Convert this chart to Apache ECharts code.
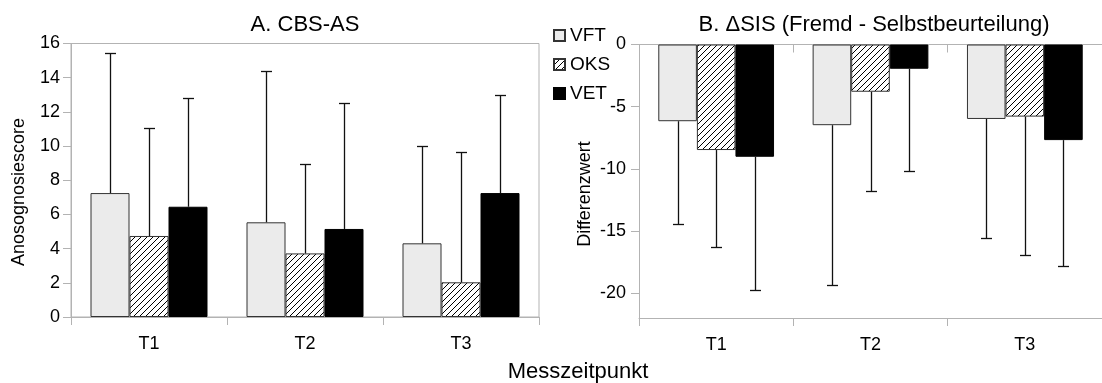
<!DOCTYPE html>
<html><head><meta charset="utf-8">
<script src="https://cdn.jsdelivr.net/npm/echarts@6/dist/echarts.min.js"></script>
<style>html,body{margin:0;padding:0;background:#fff}#c{width:1102px;height:383px}</style>
</head><body><div id="c"></div>
<script>
// ---- data ----
const categories = ['T1', 'T2', 'T3'];
const seriesNames = ['VFT', 'OKS', 'VET'];
// A. CBS-AS (Anosognosiescore): means and SD
const cbsVFT = [7.25, 5.54, 4.31];
const cbsOKS = [4.74, 3.72, 2.03];
const cbsVET = [6.45, 5.15, 7.25];
const cbsVFTsd = [8.20, 8.85, 5.69];
const cbsOKSsd = [6.29, 5.24, 7.62];
const cbsVETsd = [6.34, 7.36, 5.73];
// B. ΔSIS (Differenzwert): means and SD
const sisVFT = [-6.17, -6.49, -5.99];
const sisOKS = [-8.49, -3.80, -5.80];
const sisVET = [-9.03, -1.95, -7.69];
const sisVFTsd = [8.25, 12.88, 9.61];
const sisOKSsd = [7.83, 7.95, 11.11];
const sisVETsd = [10.68, 8.23, 10.10];
// tick labels
const yTicksA = [0, 2, 4, 6, 8, 10, 12, 14, 16];
const yTicksB = [0, -5, -10, -15, -20];

// ---- styling ----
const FONT = 'Liberation Sans';
const AXIS = '#b3b3b3';
function makeHatch() {
  const c = document.createElement('canvas');
  c.width = 6; c.height = 6;
  const g = c.getContext('2d');
  g.fillStyle = '#fff'; g.fillRect(0, 0, 6, 6);
  g.strokeStyle = '#000'; g.lineWidth = 1;
  g.beginPath();
  g.moveTo(0, 6); g.lineTo(6, 0);
  g.moveTo(-1, 1); g.lineTo(1, -1);
  g.moveTo(5, 7); g.lineTo(7, 5);
  g.stroke();
  return c;
}
const styles = [
  {color: '#ebebeb', borderColor: '#333', borderWidth: 1},
  {color: {image: makeHatch(), repeat: 'repeat'}, borderColor: '#333', borderWidth: 1},
  {color: '#000', borderColor: '#000', borderWidth: 1}
];

function errData(means, sds) {
  const out = [];
  means.forEach((m, si) => {
    m.forEach((v, ci) => {
      const end = v + Math.sign(v) * sds[si][ci];
      out.push([ci, v, end, si]);
    });
  });
  return out;
}
function errRender(params, api) {
  const ci = api.value(0), v = api.value(1), e = api.value(2), si = api.value(3);
  const p0 = api.coord([ci, v]);
  const p1 = api.coord([ci, e]);
  const band = api.size([1, 0])[0];
  const bw = band * 0.75 / 3;
  const x = Math.round(p0[0] + (si - 1) * bw) + 0.5;
  const ye = Math.round(p1[1]) + 0.5;
  const ls = {stroke: '#111', lineWidth: 1.3};
  return {
    type: 'group',
    children: [
      {type: 'line', shape: {x1: x, y1: p0[1], x2: x, y2: ye}, style: ls},
      {type: 'line', shape: {x1: x - 5.5, y1: ye, x2: x + 5.5, y2: ye}, style: ls}
    ]
  };
}

const meansA = [cbsVFT, cbsOKS, cbsVET], sdA = [cbsVFTsd, cbsOKSsd, cbsVETsd];
const meansB = [sisVFT, sisOKS, sisVET], sdB = [sisVFTsd, sisOKSsd, sisVETsd];

const series = [];
[meansA, meansB].forEach((means, gi) => {
  means.forEach((vals, si) => {
    series.push({
      type: 'bar', name: seriesNames[si], data: vals,
      xAxisIndex: gi, yAxisIndex: gi,
      barGap: '0%', barCategoryGap: '25%',
      itemStyle: styles[si], emphasis: {disabled: true}, animation: false
    });
  });
});
series.push({type: 'custom', xAxisIndex: 0, yAxisIndex: 0, renderItem: errRender,
  data: errData(meansA, sdA), encode: {x: 0, y: 1}, silent: true, animation: false, z: 5});
series.push({type: 'custom', xAxisIndex: 1, yAxisIndex: 1, renderItem: errRender,
  data: errData(meansB, sdB), encode: {x: 0, y: 1}, silent: true, animation: false, z: 5});

const catAxis = (gi, extra) => Object.assign({
  gridIndex: gi, type: 'category', data: categories,
  axisLine: {show: true, onZero: false, lineStyle: {color: AXIS, width: 1}},
  axisTick: {show: true, length: 8, lineStyle: {color: AXIS}},
  axisLabel: {margin: 18, fontSize: 18, color: '#000', fontFamily: FONT},
  splitLine: {show: false}
}, extra || {});

const chart = echarts.init(document.getElementById('c'), null, {renderer: 'canvas'});
chart.setOption({
  animation: false,
  backgroundColor: '#fff',
  textStyle: {fontFamily: FONT},
  grid: [
    {left: 71, top: 43.5, width: 468, height: 273.5, show: true, borderColor: AXIS, borderWidth: 1, backgroundColor: 'transparent'},
    {left: 639, top: 44.5, width: 467, height: 273.5}
  ],
  xAxis: [
    catAxis(0),
    catAxis(1, {position: 'bottom'}),
    catAxis(1, {position: 'top', axisTick: {show: true, inside: true, length: 8, lineStyle: {color: AXIS}}, axisLabel: {show: false}})
  ],
  yAxis: [
    {gridIndex: 0, type: 'value', min: 0, max: 16, interval: 2,
      axisLine: {show: true, lineStyle: {color: AXIS}},
      axisTick: {show: true, length: 8, lineStyle: {color: AXIS}},
      axisLabel: {margin: 11, fontSize: 18, color: '#000', fontFamily: FONT},
      splitLine: {show: false}},
    {gridIndex: 1, type: 'value', min: -22, max: 0,
      axisLine: {show: true, onZero: false, lineStyle: {color: AXIS}},
      axisTick: {show: true, length: 8, lineStyle: {color: AXIS}, customValues: yTicksB},
      axisLabel: {margin: 13, fontSize: 18, color: '#000', fontFamily: FONT, customValues: yTicksB},
      splitLine: {show: false}}
  ],
  legend: {
    orient: 'vertical', left: 553, top: 26, padding: 0, itemWidth: 11, itemHeight: 11, itemGap: 10,
    icon: 'rect', selectedMode: false, data: seriesNames,
    textStyle: {fontSize: 19, lineHeight: 18, color: '#000', fontFamily: FONT}
  },
  graphic: [
    {type: 'text', x: 305, y: 25, style: {text: 'A. CBS-AS', fontSize: 22, fontFamily: FONT, fill: '#000', align: 'center', verticalAlign: 'middle'}},
    {type: 'text', x: 874, y: 25, style: {text: 'B. ΔSIS (Fremd - Selbstbeurteilung)', fontSize: 22, fontFamily: FONT, fill: '#000', align: 'center', verticalAlign: 'middle'}},
    {type: 'text', x: 19.5, y: 192, rotation: Math.PI / 2, style: {text: 'Anosognosiescore', fontSize: 18, fontFamily: FONT, fill: '#000', align: 'center', verticalAlign: 'middle'}},
    {type: 'text', x: 585, y: 194, rotation: Math.PI / 2, style: {text: 'Differenzwert', fontSize: 18, fontFamily: FONT, fill: '#000', align: 'center', verticalAlign: 'middle'}},
    {type: 'text', x: 578, y: 372, style: {text: 'Messzeitpunkt', fontSize: 22, fontFamily: FONT, fill: '#000', align: 'center', verticalAlign: 'middle'}}
  ],
  series: series
});
</script></body></html>
